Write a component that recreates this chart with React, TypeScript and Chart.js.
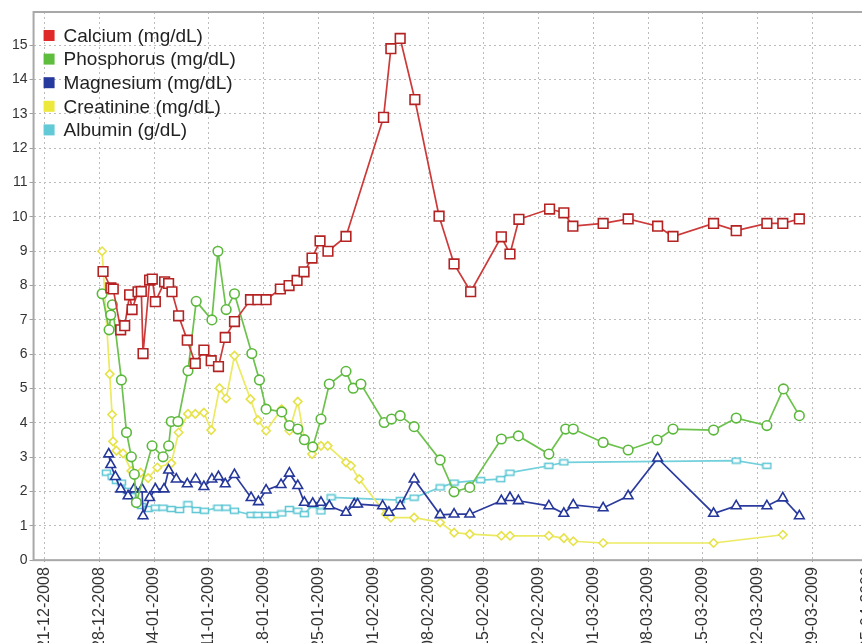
import React, { useEffect, useRef } from "react";
import { Chart, registerables } from "chart.js";

Chart.register(...registerables);

// Day offsets are counted from 21-12-2008
const START_UTC = Date.UTC(2008, 11, 21);
const X_MIN = -1.36;
const X_MAX = 110.4;
const Y_MAX = 15.97;

const seriesNames = [
  "Calcium (mg/dL)",
  "Phosphorus (mg/dL)",
  "Magnesium (mg/dL)",
  "Creatinine (mg/dL)",
  "Albumin (g/dL)",
];

const calciumDays = [7.5, 8.5, 8.8, 9.75, 10.26, 10.89, 11.2, 11.96, 12.38, 12.6, 13.44, 13.78, 14.17, 15.35, 15.86, 16.29, 17.13, 18.24, 19.26, 20.36, 21.29, 22.22, 23.08, 24.26, 26.3, 27.24, 28.29, 30.11, 31.22, 32.24, 33.13, 34.15, 35.17, 36.18, 38.48, 43.27, 44.2, 45.39, 47.26, 50.35, 52.26, 54.38, 58.29, 59.39, 60.53, 64.44, 66.26, 67.41, 71.27, 74.46, 78.22, 80.18, 85.35, 88.24, 92.15, 94.18, 96.29];
const calciumValues = [8.41, 7.93, 7.9, 6.71, 6.83, 7.73, 7.3, 7.82, 7.83, 6.02, 8.16, 8.19, 7.53, 8.11, 8.06, 7.82, 7.12, 6.41, 5.73, 6.12, 5.81, 5.64, 6.49, 6.95, 7.59, 7.59, 7.59, 7.9, 8.0, 8.15, 8.4, 8.8, 9.3, 9.0, 9.43, 12.9, 14.9, 15.2, 13.42, 10.02, 8.63, 7.82, 9.42, 8.92, 9.93, 10.23, 10.12, 9.73, 9.81, 9.94, 9.73, 9.43, 9.81, 9.6, 9.81, 9.81, 9.94];

const phosphorusDays = [7.38, 8.27, 8.48, 8.69, 9.84, 10.49, 11.11, 11.49, 11.75, 13.75, 15.15, 15.86, 16.2, 17.05, 18.33, 19.38, 21.38, 22.15, 23.2, 24.26, 26.47, 27.44, 28.29, 30.29, 31.26, 32.33, 33.17, 34.24, 35.29, 36.35, 38.48, 39.4, 40.38, 43.35, 44.29, 45.39, 47.17, 50.48, 52.26, 54.26, 58.29, 60.46, 64.35, 66.49, 67.46, 71.27, 74.46, 78.15, 80.18, 85.35, 88.24, 92.15, 94.26, 96.29];
const phosphorusValues = [7.76, 6.71, 7.14, 7.44, 5.25, 3.72, 3.01, 2.5, 1.68, 3.33, 3.01, 3.33, 4.04, 4.04, 5.52, 7.54, 7.0, 9.0, 7.3, 7.76, 6.02, 5.25, 4.4, 4.32, 3.92, 3.82, 3.51, 3.3, 4.11, 5.13, 5.5, 5.01, 5.13, 4.01, 4.11, 4.21, 3.89, 2.92, 1.99, 2.12, 3.53, 3.62, 3.09, 3.82, 3.82, 3.43, 3.21, 3.5, 3.82, 3.79, 4.14, 3.92, 4.99, 4.21];

const magnesiumDays = [8.22, 8.48, 9.07, 9.75, 10.69, 11.45, 12.47, 12.6, 13.44, 14.17, 15.27, 15.86, 16.84, 18.24, 19.3, 20.36, 21.38, 22.22, 23.08, 24.26, 26.38, 27.31, 28.29, 30.2, 31.26, 32.33, 33.17, 34.24, 35.29, 36.35, 38.48, 39.53, 39.96, 43.15, 43.95, 45.39, 47.17, 50.48, 52.26, 54.26, 58.29, 59.39, 60.46, 64.35, 66.26, 67.46, 71.27, 74.46, 78.22, 85.35, 88.24, 92.15, 94.18, 96.29];
const magnesiumValues = [3.09, 2.78, 2.43, 2.07, 1.87, 2.07, 2.07, 1.29, 1.82, 2.07, 2.07, 2.62, 2.36, 2.22, 2.36, 2.14, 2.36, 2.43, 2.22, 2.49, 1.82, 1.7, 2.04, 2.2, 2.53, 2.17, 1.68, 1.65, 1.68, 1.58, 1.39, 1.63, 1.63, 1.58, 1.39, 1.58, 2.36, 1.32, 1.34, 1.34, 1.73, 1.82, 1.73, 1.58, 1.36, 1.61, 1.52, 1.87, 2.97, 1.36, 1.58, 1.58, 1.81, 1.29];

const creatinineDays = [7.38, 8.35, 8.65, 8.78, 9.2, 10.05, 11.11, 12.29, 13.24, 14.42, 16.2, 17.13, 18.33, 19.26, 20.36, 21.29, 22.35, 23.2, 24.26, 26.3, 27.24, 28.29, 30.27, 31.26, 32.33, 33.17, 34.15, 35.29, 36.15, 38.48, 39.11, 40.17, 43.57, 44.2, 47.17, 50.48, 52.26, 54.26, 58.29, 59.39, 64.35, 66.26, 67.46, 71.27, 85.35, 94.18];
const creatinineValues = [9.0, 5.42, 4.24, 3.46, 3.19, 3.11, 2.6, 2.55, 2.39, 2.7, 2.82, 3.72, 4.26, 4.26, 4.3, 3.79, 5.01, 4.71, 5.96, 4.69, 4.08, 3.77, 4.4, 3.77, 4.62, 3.53, 3.09, 3.33, 3.33, 2.85, 2.75, 2.36, 1.34, 1.24, 1.24, 1.1, 0.8, 0.76, 0.71, 0.71, 0.71, 0.64, 0.55, 0.5, 0.5, 0.74];

const albuminDays = [7.93, 8.65, 9.2, 9.84, 10.6, 11.11, 11.75, 12.38, 13.24, 14.17, 15.15, 16.2, 17.26, 18.33, 19.38, 20.44, 22.15, 23.2, 24.26, 26.38, 27.24, 28.29, 29.35, 30.29, 31.26, 32.33, 33.17, 34.24, 35.29, 36.15, 36.57, 45.39, 47.17, 50.48, 52.26, 55.66, 58.21, 59.39, 64.35, 66.26, 88.24, 92.15];
const albuminValues = [2.55, 2.43, 2.31, 2.26, 2.02, 1.87, 1.68, 1.58, 1.49, 1.53, 1.53, 1.49, 1.46, 1.63, 1.46, 1.44, 1.53, 1.53, 1.44, 1.32, 1.32, 1.32, 1.32, 1.36, 1.49, 1.44, 1.34, 1.61, 1.42, 1.58, 1.83, 1.75, 1.82, 2.12, 2.26, 2.33, 2.36, 2.55, 2.75, 2.85, 2.9, 2.75];

const legendColors = ["#e02a2a", "#5fbd3e", "#26399c", "#ece83c", "#62c9d6"];
const lineColors = ["#cc3a3a", "#6cc24c", "#2b3b9e", "#ecea62", "#72d0dc"];
const markerColors = ["#b42222", "#5cb83c", "#25379a", "#e6e24a", "#5cc6d4"];

function pad2(n: number) {
  return n < 10 ? "0" + n : String(n);
}

function dayLabel(d: number) {
  const dt = new Date(START_UTC + Math.round(d) * 86400000);
  return `${pad2(dt.getUTCDate())}-${pad2(dt.getUTCMonth() + 1)}-${dt.getUTCFullYear()}`;
}

function toPoints(days: number[], values: number[]) {
  return days.map((d, i) => ({ x: d, y: values[i] }));
}

function makeAlbuminMarker(color: string) {
  const c = document.createElement("canvas");
  c.width = 11;
  c.height = 8;
  const g = c.getContext("2d")!;
  g.fillStyle = "#ffffff";
  g.fillRect(1.5, 1.5, 8, 5);
  g.strokeStyle = color;
  g.lineWidth = 1.5;
  g.strokeRect(1.5, 1.5, 8, 5);
  return c;
}

const framePlugin = {
  id: "frame",
  beforeDatasetsDraw(chart: any) {
    const { ctx, chartArea } = chart;
    ctx.save();
    ctx.strokeStyle = "#a8a8a8";
    ctx.lineWidth = 2;
    ctx.strokeRect(chartArea.left, chartArea.top, chartArea.right - chartArea.left, chartArea.bottom - chartArea.top);
    ctx.restore();
  },
};

const legendPlugin = {
  id: "insideLegend",
  afterDraw(chart: any) {
    const { ctx, chartArea } = chart;
    ctx.save();
    ctx.font = '19px "Liberation Sans", Arial, sans-serif';
    ctx.textBaseline = "middle";
    ctx.textAlign = "left";
    seriesNames.forEach((name, i) => {
      const cy = chartArea.top + 23.5 + i * 23.6;
      const bx = chartArea.left + 10;
      ctx.fillStyle = legendColors[i];
      ctx.fillRect(bx, cy - 5.5, 11, 11);
      ctx.fillStyle = "#222222";
      ctx.fillText(name, bx + 20, cy + 1);
    });
    ctx.restore();
  },
};

export default function App() {
  const canvasRef = useRef<HTMLCanvasElement | null>(null);

  useEffect(() => {
    if (!canvasRef.current) return;
    const albuminMarker = makeAlbuminMarker(markerColors[4]);
    const seriesDays = [calciumDays, phosphorusDays, magnesiumDays, creatinineDays, albuminDays];
    const seriesValues = [calciumValues, phosphorusValues, magnesiumValues, creatinineValues, albuminValues];
    const styles: any[] = ["rect", "circle", "triangle", "rectRot", albuminMarker];
    const radii = [6.8, 4.8, 5.6, 4.2, 4];

    const datasets = seriesNames.map((name, i) => ({
      label: name,
      data: toPoints(seriesDays[i], seriesValues[i]),
      borderColor: lineColors[i],
      borderWidth: 1.7,
      pointStyle: styles[i],
      pointRadius: radii[i],
      pointBorderColor: markerColors[i],
      pointBorderWidth: 1.6,
      pointBackgroundColor: "#ffffff",
      tension: 0,
      fill: false,
    }));

    const chart = new Chart(canvasRef.current, {
      type: "line",
      data: { datasets },
      options: {
        animation: false,
        responsive: false,
        maintainAspectRatio: false,
        layout: { padding: { left: 10, top: 12, right: 10, bottom: 9 } },
        plugins: {
          legend: { display: false },
          tooltip: { enabled: false },
        },
        scales: {
          x: {
            type: "linear",
            min: X_MIN,
            max: X_MAX,
            border: { display: false, dash: [2, 3] },
            grid: {
              color: "#bcbcbc",
              lineWidth: 1,
              tickLength: 5,
              tickColor: "#a0a0a0",
              tickBorderDash: [2, 3],
              drawTicks: true,
            },
            ticks: {
              stepSize: 7,
              includeBounds: false,
              autoSkip: false,
              maxRotation: 90,
              minRotation: 90,
              padding: 2,
              color: "#333333",
              font: { family: '"Liberation Sans", Arial, sans-serif', size: 16 },
              callback: (v: any) => dayLabel(Number(v)),
            },
          } as any,
          y: {
            type: "linear",
            min: 0,
            max: Y_MAX,
            border: { display: false, dash: [2, 3] },
            grid: {
              color: "#bcbcbc",
              lineWidth: 1,
              tickLength: 4,
              tickColor: "#a0a0a0",
              drawTicks: true,
            },
            ticks: {
              stepSize: 1,
              includeBounds: false,
              padding: 2,
              color: "#333333",
              font: { family: '"Liberation Sans", Arial, sans-serif', size: 14 },
              callback: (v: any) => String(v),
            },
          } as any,
        },
      },
      plugins: [framePlugin, legendPlugin],
    } as any);

    return () => chart.destroy();
  }, []);

  return (
    <div style={{ position: "fixed", left: 0, top: 0, width: 862, height: 643, overflow: "hidden", background: "#ffffff" }}>
      <div style={{ width: 920, height: 660 }}>
        <canvas ref={canvasRef} width={920} height={660} style={{ display: "block" }} />
      </div>
    </div>
  );
}
